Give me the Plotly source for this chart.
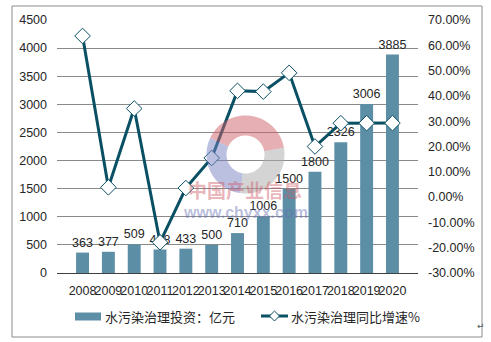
import math
import plotly.graph_objects as go

# Investment in water pollution control (100 million yuan) and year-on-year growth
years = ["2008", "2009", "2010", "2011", "2012", "2013", "2014",
         "2015", "2016", "2017", "2018", "2019", "2020"]
investment = [363, 377, 509, 418, 433, 500, 710, 1006, 1500, 1800, 2326, 3006, 3885]
growth_pct = [63.7, 3.86, 35.01, -17.88, 3.59, 15.47, 42.0,
              41.69, 49.11, 20.0, 29.22, 29.23, 29.24]

left_ticks = list(range(0, 4501, 500))
right_ticks = list(range(-30, 71, 10))
right_tick_text = [f"{v:.2f}%" for v in right_ticks]

BAR_NAME = "水污染治理投资：亿元"
LINE_NAME = "水污染治理同比增速%"

BAR_COLOR = "rgb(92,142,165)"
LINE_COLOR = "rgb(10,80,100)"

W, H = 491, 342
PL, PR, PT, PB = 57, 418, 20, 273   # plot area in pixels


def px(x):
    return (x - PL) / (PR - PL)


def py(y):
    return (PB - y) / (PB - PT)


fig = go.Figure()

fig.add_trace(go.Bar(
    x=years, y=investment, name=BAR_NAME,
    marker=dict(color=BAR_COLOR, line=dict(width=0)),
    width=0.5,
    text=[str(v) for v in investment], textposition="outside",
    constraintext="none",
    textfont=dict(family="Liberation Sans, Arial", size=12.5, color="#262626"),
    cliponaxis=False,
))

fig.add_trace(go.Scatter(
    x=years, y=growth_pct, name=LINE_NAME, yaxis="y2",
    mode="lines+markers",
    line=dict(color=LINE_COLOR, width=3),
    marker=dict(symbol="diamond", size=12, color="white",
                line=dict(color=LINE_COLOR, width=1)),
))

shapes = []
# outer frame
shapes.append(dict(type="rect", xref="paper", yref="paper",
                   x0=px(12), x1=px(482), y0=py(337), y1=py(6),
                   line=dict(color="#8c8c8c", width=1), layer="below"))


# watermark logo: three ring segments
def ring_path(cx, cy, r_out, r_in, a0, a1, n=40):
    pts_out = [(cx + r_out * math.cos(math.radians(a0 + (a1 - a0) * i / n)),
                cy - r_out * math.sin(math.radians(a0 + (a1 - a0) * i / n))) for i in range(n + 1)]
    pts_in = [(cx + r_in * math.cos(math.radians(a1 - (a1 - a0) * i / n)),
               cy - r_in * math.sin(math.radians(a1 - (a1 - a0) * i / n))) for i in range(n + 1)]
    pts = pts_out + pts_in
    return "M " + " L ".join(f"{px(x):.5f},{py(y):.5f}" for x, y in pts) + " Z"


cx, cy = 245.5, 154.5
for a0, a1, col in [(10, 155, "rgba(205,95,105,0.5)"),
                    (155, 262, "rgba(120,130,195,0.5)"),
                    (262, 370, "rgba(170,170,170,0.5)")]:
    shapes.append(dict(type="path", xref="paper", yref="paper",
                       path=ring_path(cx, cy, 39, 19, a0, a1),
                       fillcolor=col, line=dict(width=0), layer="above"))

# hand-drawn legend keys
shapes.append(dict(type="rect", xref="paper", yref="paper",
                   x0=px(75), x1=px(101), y0=py(320.5), y1=py(312.5),
                   fillcolor=BAR_COLOR, line=dict(width=0)))
shapes.append(dict(type="line", xref="paper", yref="paper",
                   x0=px(261), x1=px(288), y0=py(316), y1=py(316),
                   line=dict(color=LINE_COLOR, width=3)))
dx, dy = 274.5, 316
shapes.append(dict(type="path", xref="paper", yref="paper",
                   path=(f"M {px(dx - 5):.5f},{py(dy):.5f} L {px(dx):.5f},{py(dy - 5):.5f} "
                         f"L {px(dx + 5):.5f},{py(dy):.5f} L {px(dx):.5f},{py(dy + 5):.5f} Z"),
                   fillcolor="white", line=dict(color=LINE_COLOR, width=1)))

legend_font = dict(family="Noto Sans CJK SC", size=13, color="#262626")
annotations = [
    dict(text=BAR_NAME, x=px(103), y=py(316), xref="paper", yref="paper",
         xanchor="left", yanchor="middle", showarrow=False, font=legend_font),
    dict(text=LINE_NAME, x=px(289), y=py(316), xref="paper", yref="paper",
         xanchor="left", yanchor="middle", showarrow=False, font=legend_font),
    dict(text="<b>中国产业信息</b>", x=px(245), y=py(205), xref="paper", yref="paper",
         showarrow=False, font=dict(family="Noto Sans CJK SC", size=19,
                                    color="rgba(205,90,100,0.45)")),
    dict(text="<b>www.chyxx.com</b>", x=px(245), y=py(223), xref="paper", yref="paper",
         showarrow=False, font=dict(family="Liberation Sans, Arial", size=16,
                                    color="rgba(100,110,180,0.45)")),
    dict(text="↵", x=px(487), y=py(333), xref="paper", yref="paper",
         showarrow=False, font=dict(family="DejaVu Sans", size=9, color="#555")),
]

tick_font = dict(family="Liberation Sans, Arial", size=12.5, color="#262626")

fig.update_layout(
    width=W, height=H,
    margin=dict(l=PL, r=W - PR, t=PT, b=H - PB, pad=0),
    paper_bgcolor="white", plot_bgcolor="white",
    showlegend=False,
    xaxis=dict(type="category", tickfont=tick_font, tickangle=0, showgrid=False,
               showline=True, linecolor="#404040", linewidth=1,
               ticks="", ticklabelstandoff=6),
    yaxis=dict(range=[0, 4500], tickvals=left_ticks, tickfont=tick_font,
               showgrid=True, gridcolor="#8a8a8a", gridwidth=1,
               zeroline=False, showline=False, ticks="", ticklabelstandoff=9),
    yaxis2=dict(range=[-30, 70], tickvals=right_ticks, ticktext=right_tick_text,
                overlaying="y", side="right", tickfont=tick_font,
                showgrid=False, zeroline=False, showline=False, ticks="",
                ticklabelstandoff=9),
    shapes=shapes,
    annotations=annotations,
)

fig.write_html("out.html")
